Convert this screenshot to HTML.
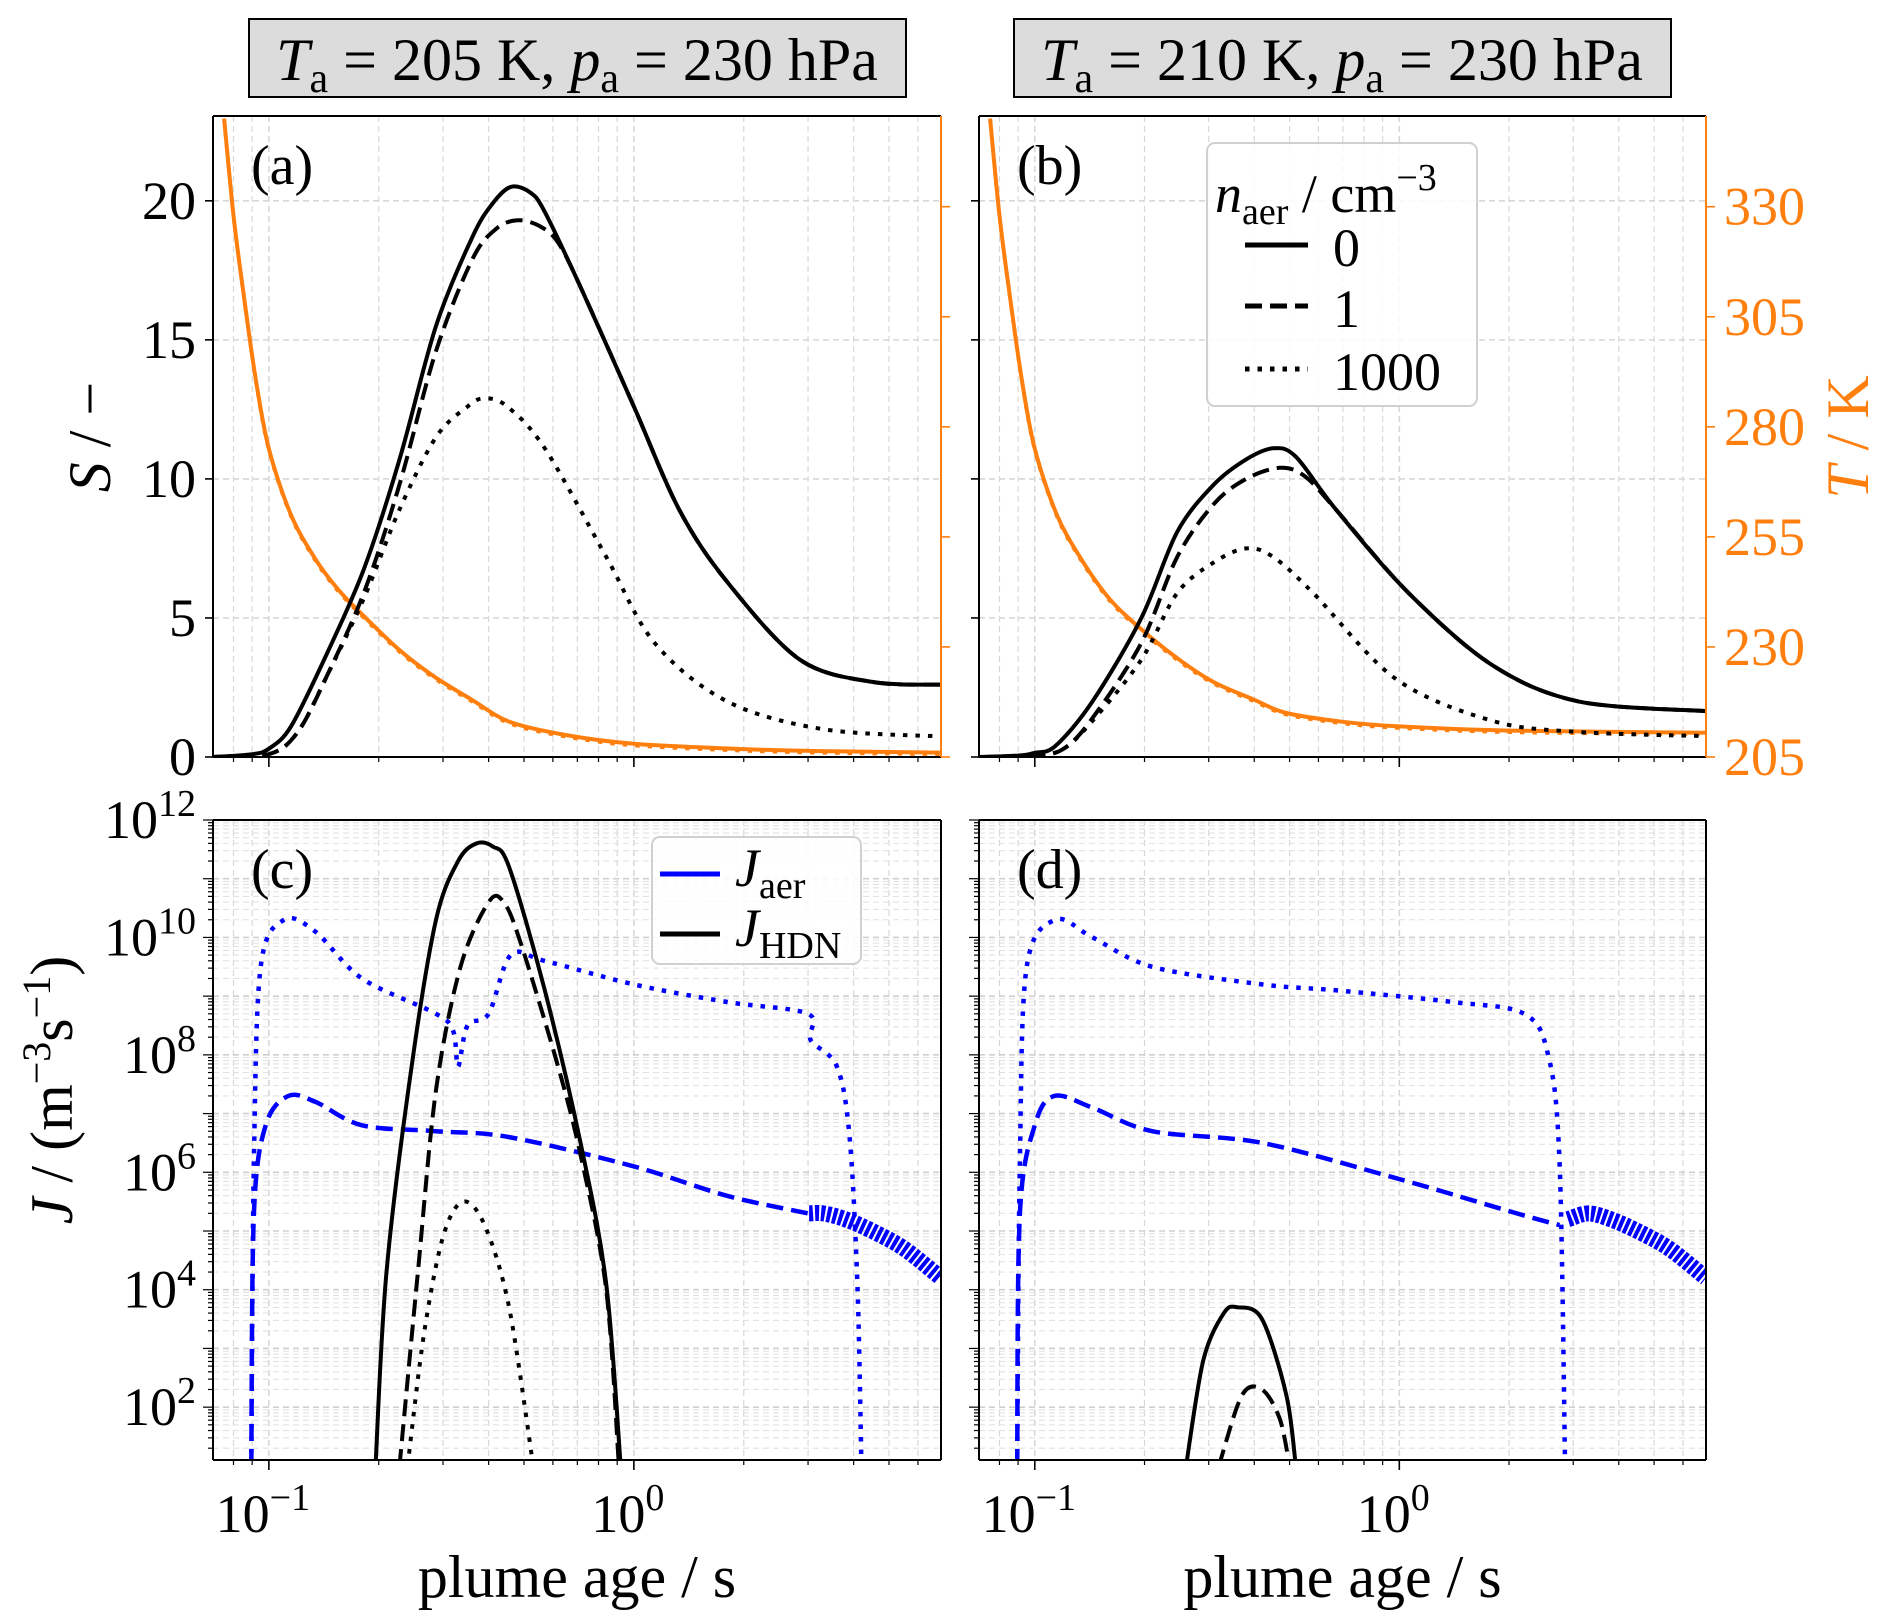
<!DOCTYPE html>
<html><head><meta charset="utf-8">
<style>
html,body{margin:0;padding:0;background:#fff;}
svg{display:block;font-family:"Liberation Serif","DejaVu Serif",serif;}
</style></head>
<body>
<svg id="fig" width="1892" height="1621" viewBox="0 0 1892 1621" xmlns="http://www.w3.org/2000/svg"></svg>
<script>
// ---------- data ----------
const aSolidX=[0.07,0.09,0.1,0.115,0.144,0.182,0.228,0.287,0.361,0.41,0.46,0.52,0.57,0.72,1.0,1.33,1.8,2.85,4.5,6.94];
const aSolidS=[0,0.1,0.3,1.1,3.7,6.75,10.7,15.5,18.7,19.9,20.5,20.3,19.6,16.8,12.6,8.9,6.3,3.5,2.7,2.6];
const aDashX=[0.07,0.1,0.12,0.144,0.182,0.228,0.287,0.361,0.42,0.48,0.55,0.62,0.72,1.0,1.33,1.8,2.85,4.5,6.94];
const aDashS=[0,0.1,0.9,2.9,5.9,9.8,14.6,17.9,19.0,19.3,19.1,18.5,16.8,12.6,8.9,6.3,3.5,2.7,2.6];
const aDotX=[0.07,0.1,0.12,0.144,0.182,0.228,0.287,0.35,0.39,0.45,0.57,0.84,1.14,1.8,3.3,6.94];
const aDotS=[0,0.1,0.9,2.9,5.7,8.9,11.5,12.6,12.9,12.6,11.1,7.2,4.1,2.0,1.0,0.74];
const aTX=[0.0754,0.08,0.085,0.092,0.1,0.115,0.134,0.155,0.182,0.23,0.287,0.36,0.456,0.65,1.0,2.0,3.5,6.94];
const aTK=[350,328,311,291,275,260,250,243,237,229,223,218,213,210,208,206.8,206.3,206];
const bSolidX=[0.07,0.09,0.1,0.114,0.144,0.196,0.246,0.31,0.38,0.45,0.52,0.67,1.06,1.8,3.1,6.94];
const bSolidS=[0,0.05,0.15,0.4,2.0,5.0,8.1,9.8,10.7,11.1,10.8,8.9,5.9,3.3,2.0,1.65];
const bDashX=[0.07,0.1,0.12,0.144,0.196,0.246,0.31,0.38,0.47,0.55,0.67,1.06,1.8,3.1,6.94];
const bDashS=[0,0.05,0.3,1.4,4.1,7.2,9.1,10.0,10.4,10.1,8.9,5.9,3.3,2.0,1.65];
const bDotX=[0.07,0.1,0.12,0.144,0.196,0.246,0.31,0.38,0.45,0.58,0.98,1.8,3.1,6.94];
const bDotS=[0,0.05,0.3,1.3,3.5,5.9,7.0,7.5,7.2,5.9,2.8,1.3,0.9,0.75];
const bTX=[0.0754,0.08,0.085,0.092,0.1,0.115,0.134,0.16,0.196,0.25,0.31,0.4,0.49,0.7,0.98,2.0,6.94];
const bTK=[350,328,311,291,275,260,250,241,234,227,222,218,215,213,212,211,210.5];
const cHsolX=[0.196,0.21,0.246,0.287,0.33,0.37,0.41,0.455,0.57,0.72,0.84,0.92];
const cHsolJ=[1.0,4.3,7.8,10.3,11.3,11.6,11.55,11.2,9.1,6.4,4.1,1.0];
const cHdashX=[0.228,0.256,0.287,0.335,0.40,0.44,0.49,0.62,0.72,0.84,0.91];
const cHdashJ=[1.0,4.3,7.4,9.5,10.6,10.6,9.9,7.8,6.2,4.0,1.0];
const cHdotX=[0.24,0.266,0.3,0.34,0.39,0.455,0.53];
const cHdotJ=[1.0,3.25,4.9,5.5,5.1,3.7,1.0];
const cA1000X=[0.0895,0.091,0.095,0.11,0.134,0.18,0.287,0.32,0.33,0.35,0.4,0.46,0.57,1.0,1.8,3.0,3.05,3.6,3.9,4.1,4.2];
const cA1000J=[1.0,6.2,9.5,10.3,10.1,9.3,8.7,8.4,7.8,8.5,8.7,9.7,9.6,9.2,8.9,8.7,8.25,7.8,6.6,4.0,1.0];
const cA1X=[0.0895,0.091,0.098,0.113,0.134,0.18,0.287,0.455,1.0,1.8,3.0];
const cA1J=[1.0,5.3,6.8,7.3,7.2,6.8,6.7,6.6,6.1,5.6,5.3];
const cBandX=[3.02,3.3,3.8,4.5,5.5,6.94];
const cBandJ=[5.3,5.3,5.2,5.0,4.7,4.2];
const dHsolX=[0.26,0.29,0.33,0.36,0.42,0.49,0.52];
const dHsolJ=[1.0,2.8,3.6,3.7,3.5,2.2,1.0];
const dHdashX=[0.32,0.37,0.42,0.47,0.5];
const dHdashJ=[1.0,2.2,2.3,1.8,1.0];
const dA1000X=[0.0895,0.091,0.095,0.114,0.144,0.21,0.42,0.67,1.4,2.2,2.56,2.75,2.85];
const dA1000J=[1.0,6.2,9.5,10.3,10.0,9.5,9.2,9.1,8.9,8.7,8.0,6.2,1.0];
const dA1X=[0.0895,0.091,0.1,0.113,0.144,0.21,0.42,0.98,2.1,2.75];
const dA1J=[1.0,5.3,6.8,7.3,7.1,6.7,6.5,5.9,5.3,5.1];
const dBandX=[2.9,3.3,3.8,4.5,5.5,6.94];
const dBandJ=[5.2,5.3,5.2,5.0,4.7,4.2];
const sTicks=[0,5,10,15,20];
const tTicks=[205,230,255,280,305,330];
const jTicks=[2,4,6,8,10,12];

// ---------- geometry ----------
const NS="http://www.w3.org/2000/svg";
const svg=document.getElementById('fig');
const XMIN=Math.log10(0.0703), XMAX=Math.log10(6.94);
const panels={a:{l:213,r:941,t:116,b:757},b:{l:979,r:1706,t:116,b:757},c:{l:213,r:941,t:820,b:1460},d:{l:979,r:1706,t:820,b:1460}};
const SMAX=23.05, TMIN=205, TMAX=350.6, JMIN=1.1, JMAX=12.0;
const ORANGE="#ff7f0e", BLUE="#0000ff";
function mk(tag,attrs,parent){const e=document.createElementNS(NS,tag);for(const k in attrs)e.setAttribute(k,attrs[k]);(parent||svg).appendChild(e);return e;}
function xs(p,v){return p.l+(Math.log10(v)-XMIN)/(XMAX-XMIN)*(p.r-p.l);}
function ysS(p,v){return p.b-v/SMAX*(p.b-p.t);}
function ysT(p,v){return p.b-(v-TMIN)/(TMAX-TMIN)*(p.b-p.t);}
function ysJ(p,v){return p.b-(v-JMIN)/(JMAX-JMIN)*(p.b-p.t);}
function clip(id,p){const cp=mk('clipPath',{id:id});mk('rect',{x:p.l,y:p.t,width:p.r-p.l,height:p.b-p.t},cp);}

function grid(p,isLog){
  const g=mk('g',{});
  
  
  for(let e=-2;e<=1;e++)for(let m=1;m<10;m++){const v=m*Math.pow(10,e);const lv=Math.log10(v);if(lv<XMIN||lv>XMAX)continue;const x=xs(p,v);
    mk('line',{x1:x,x2:x,y1:p.t,y2:p.b,stroke:'#d8d8d8','stroke-width':m===1?1.6:1.2,'stroke-dasharray':'6 4'},g);
    const tl=m===1?10:5; mk('line',{x1:x,x2:x,y1:p.b,y2:p.b+tl,stroke:'#000','stroke-width':m===1?1.6:1.2},g);}
  if(!isLog){sTicks.forEach(s=>{const y=ysS(p,s);mk('line',{x1:p.l,x2:p.r,y1:y,y2:y,stroke:'#d8d8d8','stroke-width':1.6,'stroke-dasharray':'6 4'},g);});}
  else{for(let e=1;e<=12;e++)for(let m=1;m<10;m++){const v=e+Math.log10(m);if(v<JMIN||v>JMAX)continue;const y=ysJ(p,v);
    mk('line',{x1:p.l,x2:p.r,y1:y,y2:y,stroke:m===1?'#cfcfcf':'#e2e2e2','stroke-width':m===1?1.6:1.1,'stroke-dasharray':'6 4'},g);
    mk('line',{x1:p.l-(m===1?10:5),x2:p.l,y1:y,y2:y,stroke:'#000','stroke-width':1.2},g);}}
}
function smoothPath(P){
  let d='M'+P[0][0].toFixed(1)+','+P[0][1].toFixed(1);
  for(let i=0;i<P.length-1;i++){
    const p0=P[Math.max(0,i-1)],p1=P[i],p2=P[i+1],p3=P[Math.min(P.length-1,i+2)];
    const t=0.16;
    const c1=[p1[0]+(p2[0]-p0[0])*t,p1[1]+(p2[1]-p0[1])*t];
    const c2=[p2[0]-(p3[0]-p1[0])*t,p2[1]-(p3[1]-p1[1])*t];
    d+=' C'+c1[0].toFixed(1)+','+c1[1].toFixed(1)+' '+c2[0].toFixed(1)+','+c2[1].toFixed(1)+' '+p2[0].toFixed(1)+','+p2[1].toFixed(1);
  }
  return d;
}
function line(p,X,Y,yf,color,dash,name,cid,w){
  const P=X.map((x,i)=>[xs(p,x),yf(p,Y[i])]);
  const e=mk('path',{d:smoothPath(P),fill:'none',stroke:color,'stroke-width':w||4,'stroke-linejoin':'round','clip-path':'url(#'+cid+')'});
  if(dash)e.setAttribute('stroke-dasharray',dash);
  
  
}
function frame(p,rightOrange){
  mk('line',{x1:p.l,x2:p.r,y1:p.t,y2:p.t,stroke:'#000','stroke-width':2});
  mk('line',{x1:p.l,x2:p.r,y1:p.b,y2:p.b,stroke:'#000','stroke-width':2});
  mk('line',{x1:p.l,x2:p.l,y1:p.t,y2:p.b,stroke:'#000','stroke-width':2});
  mk('line',{x1:p.r,x2:p.r,y1:p.t,y2:p.b,stroke:rightOrange?ORANGE:'#000','stroke-width':2});
}
function txt(x,y,s,size,opts){const e=mk('text',Object.assign({x:x,y:y,'font-size':size},opts||{}));e.textContent=s;return e;}

const DASH='17 8', DOT='4.5 8';
['a','b','c','d'].forEach(k=>clip('clip-'+k,panels[k]));

[['a',[aSolidX,aSolidS,aDashX,aDashS,aDotX,aDotS,aTX,aTK]],['b',[bSolidX,bSolidS,bDashX,bDashS,bDotX,bDotS,bTX,bTK]]].forEach(([k,D])=>{
  const p=panels[k]; grid(p,false);
  line(p,D[6],D[7].map(v=>v-0.4),ysT,ORANGE,DOT,'temperature-line-dotted-'+k,'clip-'+k,3.5);
  line(p,D[6],D[7],ysT,ORANGE,null,'temperature-line-'+k,'clip-'+k);
  line(p,D[0],D[1],ysS,'#000',null,'saturation-n0-'+k,'clip-'+k);
  line(p,D[2],D[3],ysS,'#000',DASH,'saturation-n1-'+k,'clip-'+k);
  line(p,D[4],D[5],ysS,'#000',DOT,'saturation-n1000-'+k,'clip-'+k);
  frame(p,true);
  sTicks.forEach(s=>{const y=ysS(p,s);mk('line',{x1:p.l-8,x2:p.l,y1:y,y2:y,stroke:'#000','stroke-width':1.6});});
  tTicks.forEach(t=>{const y=ysT(p,t);mk('line',{x1:p.r,x2:p.r+9,y1:y,y2:y,stroke:ORANGE,'stroke-width':1.6});});
});
[['c',[cHsolX,cHsolJ,cHdashX,cHdashJ,cHdotX,cHdotJ,cA1000X,cA1000J,cA1X,cA1J,cBandX,cBandJ]],['d',[dHsolX,dHsolJ,dHdashX,dHdashJ,[],[],dA1000X,dA1000J,dA1X,dA1J,dBandX,dBandJ]]].forEach(([k,D])=>{
  const p=panels[k]; grid(p,true);
  line(p,D[6],D[7],ysJ,BLUE,DOT,'j-aer-n1000-'+k,'clip-'+k,4.5);
  line(p,D[8],D[9],ysJ,BLUE,DASH,'j-aer-n1-'+k,'clip-'+k,4.5);
  line(p,D[10],D[11],ysJ,BLUE,'4 2','j-aer-n1-noisy-'+k,'clip-'+k,16);
  line(p,D[0],D[1],ysJ,'#000',null,'j-hdn-n0-'+k,'clip-'+k);
  line(p,D[2],D[3],ysJ,'#000',DASH,'j-hdn-n1-'+k,'clip-'+k);
  if(D[4].length)line(p,D[4],D[5],ysJ,'#000',DOT,'j-hdn-n1000-'+k,'clip-'+k);
  frame(p,false);
});

const pa=panels.a,pb=panels.b,pc=panels.c,pd=panels.d;
sTicks.forEach(s=>{const t=txt(196,ysS(pa,s)+18,String(s),54,{'text-anchor':'end'});});
tTicks.forEach(v=>{const t=txt(1724,ysT(pb,v)+18,String(v),54,{fill:ORANGE});});
jTicks.forEach(v=>{const y=ysJ(pc,v);const g=mk('text',{x:196,y:y+18,'font-size':54,'text-anchor':'end'});
  
  const a=mk('tspan',{},g);a.textContent='10';const b=mk('tspan',{dy:-22,'font-size':38},g);b.textContent=String(v);});
[pc,pd].forEach(p=>{[[0.1,'−1'],[1,'0']].forEach(([v,e])=>{const g=mk('text',{x:xs(p,v)-6,y:1532,'font-size':54,'text-anchor':'middle'});
  
  const a=mk('tspan',{},g);a.textContent='10';const b=mk('tspan',{dy:-22,'font-size':38},g);b.textContent=e;});});
[pc,pd].forEach(p=>{const t=txt((p.l+p.r)/2,1597,'plume age / s',60,{'text-anchor':'middle'});});
let yl=mk('text',{x:0,y:0,'font-size':60,'text-anchor':'middle',transform:'translate(110,437) rotate(-90)'});

let t1=mk('tspan',{'font-style':'italic'},yl);t1.textContent='S';let t2=mk('tspan',{},yl);t2.textContent=' / −';
yl=mk('text',{x:0,y:0,'font-size':60,'text-anchor':'middle',transform:'translate(1868,437) rotate(-90)',fill:ORANGE});

t1=mk('tspan',{'font-style':'italic'},yl);t1.textContent='T';t2=mk('tspan',{},yl);t2.textContent=' / K';
yl=mk('text',{x:0,y:0,'font-size':60,'text-anchor':'middle',transform:'translate(72,1090) rotate(-90)'});

t1=mk('tspan',{'font-style':'italic'},yl);t1.textContent='J';t2=mk('tspan',{},yl);t2.textContent=' / (m';
let t3=mk('tspan',{dy:-22,'font-size':40},yl);t3.textContent='−3';let t4=mk('tspan',{dy:22},yl);t4.textContent='s';
let t5=mk('tspan',{dy:-22,'font-size':40},yl);t5.textContent='−1';let t6=mk('tspan',{dy:22},yl);t6.textContent=')';
[['(a)',pa],['(b)',pb],['(c)',pc],['(d)',pd]].forEach(([s,p])=>{const t=txt(p.l+38,p.t+68,s,56);});
[[249,'205'],[1014,'210']].forEach(([x,T])=>{
  const r=mk('rect',{x:x,y:19,width:657,height:78,fill:'#dcdcdc',stroke:'#000','stroke-width':2});
  
  const g=mk('text',{x:x+328,y:80,'font-size':60,'text-anchor':'middle'});
  
  const a=mk('tspan',{'font-style':'italic'},g);a.textContent='T';
  const b=mk('tspan',{dy:12,'font-size':42},g);b.textContent='a';
  const c=mk('tspan',{dy:-12},g);c.textContent=' = '+T+' K,  ';
  const d=mk('tspan',{'font-style':'italic'},g);d.textContent='p';
  const e=mk('tspan',{dy:12,'font-size':42},g);e.textContent='a';
  const f=mk('tspan',{dy:-12},g);f.textContent=' = 230 hPa';
});
let lg=mk('g',{});
mk('rect',{x:1207,y:143,width:270,height:263,rx:8,fill:'#fff','fill-opacity':0.85,stroke:'#d0d0d0','stroke-width':2},lg);
let lt=mk('text',{x:1215,y:212,'font-size':54},lg);let q=mk('tspan',{'font-style':'italic'},lt);q.textContent='n';
q=mk('tspan',{dy:12,'font-size':38},lt);q.textContent='aer';q=mk('tspan',{dy:-12},lt);q.textContent=' / cm';q=mk('tspan',{dy:-22,'font-size':38},lt);q.textContent='−3';
[['0',null,262],['1',DASH,323],['1000',DOT,386]].forEach(([s,d,y])=>{const l=mk('line',{x1:1245,x2:1308,y1:y-17,y2:y-17,stroke:'#000','stroke-width':5},lg);if(d)l.setAttribute('stroke-dasharray',d);
  const t=txt(1333,y+4,s,54,{});lg.appendChild(t);});
lg=mk('g',{});
mk('rect',{x:652,y:837,width:209,height:127,rx:8,fill:'#fff','fill-opacity':0.85,stroke:'#d0d0d0','stroke-width':2},lg);
[['aer',BLUE,886],['HDN','#000',946]].forEach(([s,c,y])=>{mk('line',{x1:660,x2:720,y1:y-12,y2:y-12,stroke:c,'stroke-width':5},lg);
  const t=mk('text',{x:735,y:y,'font-size':54},lg);
  const a=mk('tspan',{'font-style':'italic'},t);a.textContent='J';const b=mk('tspan',{dy:12,'font-size':38},t);b.textContent=s;});
</script>
</body></html>
